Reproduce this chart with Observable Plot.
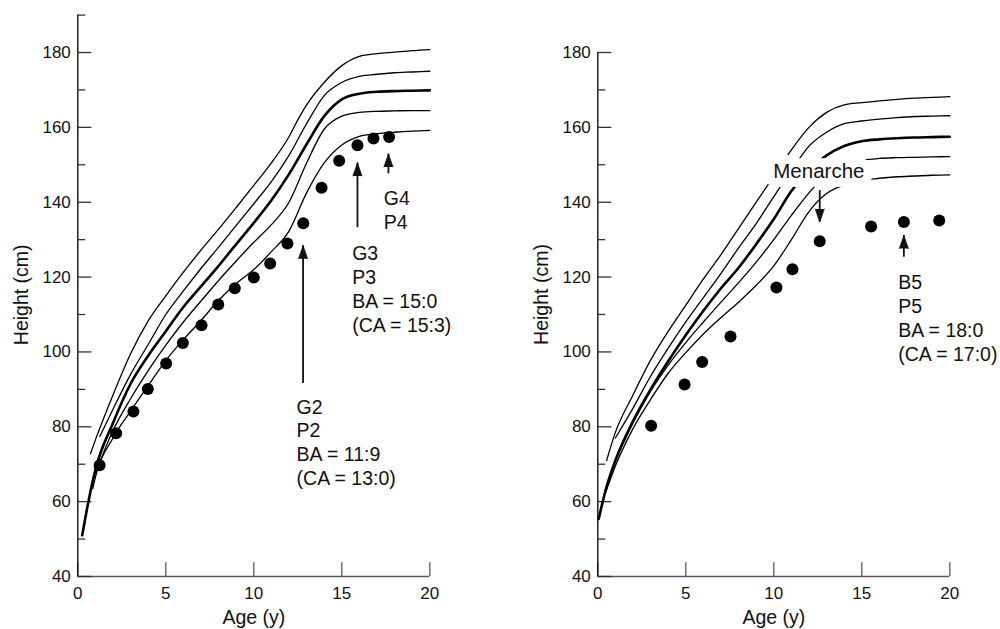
<!DOCTYPE html>
<html><head><meta charset="utf-8">
<script src="https://cdn.jsdelivr.net/npm/d3@7"></script>
<script src="https://cdn.jsdelivr.net/npm/@observablehq/plot@0.6"></script>
<style>
html,body{margin:0;padding:0;background:#fff;}
#wrap{display:flex;width:1000px;height:629px;overflow:hidden;}
#wrap svg{overflow:visible;}
</style></head><body><div id="wrap"></div>
<script>
// ---------- shared axis values ----------
const majorY = [40, 60, 80, 100, 120, 140, 160, 180];
const minorYLeft = [50, 70, 90, 110, 130, 150, 170, 190];
const minorYRight = [50, 70, 90, 110, 130, 150, 170];
const xTicks = [0, 5, 10, 15, 20];

// ---------- left panel (boy) percentile curves ----------
const leftTopAge = [0.72, 1, 2, 3, 4, 5, 6, 7, 8, 9, 10, 11, 12, 12.5, 13, 14, 15, 16, 17, 18, 19, 20];
const leftTopHt  = [72.8, 76.5, 88.5, 99.5, 108.3, 115, 121.3, 127.2, 132.8, 138.6, 144.5, 150.5, 157.5, 162, 166, 172, 176.5, 179, 179.7, 180.1, 180.5, 180.8];
const leftUpAge = [1.25, 2, 3, 4, 5, 6, 7, 8, 9, 10, 11, 12, 13, 14, 15, 16, 17, 18, 19, 20];
const leftUpHt  = [77.4, 84.7, 94, 102, 110, 116.3, 122.3, 128, 133.8, 139.6, 145.5, 152.5, 161, 168.5, 172, 173.6, 174.2, 174.6, 174.8, 175];
const leftMidAge = [0.25, 0.5, 1, 2, 3, 4, 5, 6, 7, 8, 9, 10, 11, 12, 13, 14, 15, 16, 17, 18, 19, 20];
const leftMidHt  = [51, 57.5, 68.5, 81, 91.5, 99, 105.5, 112, 117.5, 123, 128.8, 134.5, 140.5, 147.5, 155.5, 163, 167.5, 169, 169.5, 169.7, 169.8, 169.9];
const leftLowAge = [1, 2, 3, 4, 5, 6, 7, 8, 9, 10, 11, 12, 13, 14, 15, 16, 17, 18, 19, 20];
const leftLowHt  = [67.5, 79, 87.5, 95, 101.8, 108, 113.6, 119.1, 124.3, 129.3, 134, 140, 150.5, 159.5, 163, 164, 164.3, 164.4, 164.5, 164.5];
const leftBotAge = [0.85, 1, 2, 3, 4, 5, 6, 7, 8, 9, 10, 11, 12, 13, 14, 15, 16, 17, 18, 19, 20];
const leftBotHt  = [63.5, 66.5, 77, 84.2, 91, 97.7, 103.3, 108.4, 113.8, 118.3, 122, 126.8, 132.3, 142.5, 150.5, 155.3, 157.6, 158.3, 158.7, 159, 159.2];

// patient measurements (left)
const leftDotAge = [1.24, 2.18, 3.16, 3.98, 5.02, 5.97, 7.03, 7.98, 8.92, 10.0, 10.93, 11.91, 12.81, 13.85, 14.85, 15.89, 16.8, 17.69];
const leftDotHt  = [69.7, 78.3, 84.1, 90.1, 96.9, 102.4, 107.1, 112.7, 117.0, 119.9, 123.6, 129.0, 134.4, 143.9, 151.1, 155.2, 157.0, 157.4];

// annotations (left)
const leftArrowAge  = [12.8, 15.89, 17.65];
const leftArrowFrom = [91.6, 133.2, 147.6];
const leftArrowTo   = [128.4, 150.5, 152.9];
const leftNoteAge  = [12.43, 15.59, 17.39];
const leftNoteHt   = [88.1, 129.05, 143.7];
const leftNoteText = ["G2\nP2\nBA = 11:9\n(CA = 13:0)", "G3\nP3\nBA = 15:0\n(CA = 15:3)", "G4\nP4"];

// ---------- right panel (girl) percentile curves ----------
const rightTopAge = [0.5, 1, 2, 3, 4, 5, 6, 7, 8, 9, 10, 11, 12, 13, 14, 15, 16, 17, 18, 19, 20];
const rightTopHt  = [71, 78.5, 88.5, 97.8, 105.5, 112.5, 119.5, 126, 133, 140, 147, 154, 160, 164, 166, 166.6, 167.1, 167.5, 167.8, 168, 168.2];
const rightUpAge = [1, 2, 3, 4, 5, 6, 7, 8, 9, 10, 11, 12, 13, 14, 15, 16, 17, 18, 19, 20];
const rightUpHt  = [77, 85, 93.5, 101, 108, 114.5, 121, 127.8, 134.3, 141.5, 148.5, 155, 158.7, 161, 161.7, 162.2, 162.6, 162.9, 163, 163.1];
const rightMidAge = [0.05, 0.5, 1, 2, 3, 4, 5, 6, 7, 8, 9, 10, 11, 12, 13, 14, 15, 16, 17, 18, 19, 20];
const rightMidHt  = [55.4, 64, 71, 81.5, 90, 97.5, 104.5, 111, 117, 122.5, 128.8, 135.5, 143, 148.5, 152.5, 155, 156.3, 156.8, 157.1, 157.3, 157.4, 157.5];
const rightLowAge = [0.9, 2, 3, 4, 5, 6, 7, 8, 9, 10, 11, 12, 13, 14, 15, 16, 17, 18, 19, 20];
const rightLowHt  = [70, 81, 89.5, 96.5, 102.5, 108, 113.3, 118.5, 124, 130, 136.5, 142.5, 147.5, 150, 151.2, 151.7, 151.9, 152, 152.1, 152.2];
const rightBotAge = [0.45, 1, 2, 3, 4, 5, 6, 7, 8, 9, 10, 11, 12, 13, 14, 15, 16, 17, 18, 19, 20];
const rightBotHt  = [62.5, 69.5, 79.5, 87.3, 94.3, 99.8, 104.8, 109.2, 113.3, 117.8, 123, 130, 137.5, 142.3, 144.6, 145.8, 146.4, 146.8, 147, 147.2, 147.3];

// patient measurements (right)
const rightDotAge = [3.03, 4.93, 5.93, 7.54, 10.15, 11.06, 12.61, 15.53, 17.39, 19.40];
const rightDotHt  = [80.3, 91.3, 97.3, 104.1, 117.2, 122.1, 129.6, 133.5, 134.7, 135.1];

// annotations (right)
const rightArrowAge  = [12.61, 17.39];
const rightArrowFrom = [143.1, 125.3];
const rightArrowTo   = [134.7, 131.1];
const rightNoteAge  = [17.07];
const rightNoteHt   = [121.3];
const rightNoteText = ["B5\nP5\nBA = 18:0\n(CA = 17:0)"];
const haloNoteAge  = [12.56];
const haloNoteHt   = [150.4];
const haloNoteText = ["Menarche"];

const yLabel = "Height (cm)";
const xLabel = "Age (y)";
const FONT = "'Liberation Sans', Arial, Helvetica, sans-serif";

const zip = (xs, ys) => xs.map((x, i) => ({x, y: ys[i]}));

function panel(cfg) {
  const arrows = cfg.arrowAge.map((x, i) => ({x, from: cfg.arrowFrom[i], to: cfg.arrowTo[i]}));
  const notes = cfg.noteAge.map((x, i) => ({x, y: cfg.noteHt[i], t: cfg.noteText[i]}));
  const marks = [
    // axes frame
    Plot.ruleY([40], {x1: 0, x2: 20, stroke: "#5a5a5a", strokeWidth: 1.3}),
    Plot.ruleX(xTicks, {y1: 40, y2: 43.7, stroke: "#5a5a5a", strokeWidth: 1.3}),
    Plot.ruleX([0], {y1: 40, y2: cfg.yTop, stroke: "#111", strokeWidth: 1.4}),
    Plot.ruleY(majorY, {x1: 0, x2: 0.8, stroke: "#333", strokeWidth: 1.3}),
    Plot.ruleY(cfg.minor, {x1: 0, x2: 0.45, stroke: "#333", strokeWidth: 1.3}),
    Plot.axisY({ticks: majorY, tickSize: 0, tickPadding: 7, label: null, fill: "#111"}),
    Plot.axisX({ticks: xTicks, tickSize: 0, tickPadding: 10, label: null, fill: "#111"}),
    Plot.text([yLabel], {frameAnchor: "left", textAnchor: "middle", lineAnchor: "middle", rotate: -90,
      dx: -56, dy: cfg.labelDy, fontSize: 19.5, fill: "#111"}),
    Plot.text([xLabel], {frameAnchor: "bottom", textAnchor: "middle", lineAnchor: "middle",
      dy: 41.6, fontSize: 19.5, fill: "#111"}),
  ];
  cfg.curves.forEach(([ages, hts, w]) => {
    marks.push(Plot.line(zip(ages, hts), {x: "x", y: "y", stroke: "#000", strokeWidth: w, curve: "monotone-x"}));
  });
  if (cfg.halo) {
    const h = cfg.halo.age.map((x, i) => ({x, y: cfg.halo.ht[i], t: cfg.halo.text[i]}));
    marks.push(Plot.text(h, {x: "x", y: "y", text: "t", textAnchor: "middle", lineAnchor: "top",
      fontSize: 20.5, fill: "#111", stroke: "white", strokeWidth: 18}));
  }
  marks.push(
    Plot.dot(zip(cfg.dotAge, cfg.dotHt), {x: "x", y: "y", r: 6, fill: "#000", stroke: "none"}),
    Plot.ruleX(arrows, {x: "x", y1: "from", y2: "to", stroke: "#111", strokeWidth: 1.8}),
    Plot.vector(arrows, {x: "x", y: "to", rotate: d => d.to > d.from ? 0 : 180, length: 13, anchor: "end",
      shape: "spike", r: 4.5, fill: "#111", stroke: "#111", strokeWidth: 0.8}),
    Plot.text(notes, {x: "x", y: "y", text: "t", textAnchor: "start", lineAnchor: "top",
      fontSize: 19.5, lineHeight: 1.23, fill: "#111"})
  );
  return Plot.plot({
    width: 500, height: 629,
    marginLeft: cfg.marginLeft, marginRight: cfg.marginRight,
    marginTop: cfg.marginTop, marginBottom: 53,
    x: {domain: [0, 20], axis: null},
    y: {domain: [40, cfg.yTop], axis: null},
    style: {fontFamily: FONT, fontSize: "17px", background: "white", color: "#111"},
    marks
  });
}

const wrap = document.getElementById("wrap");
wrap.append(panel({
  yTop: 190, minor: minorYLeft, marginLeft: 77.3, marginRight: 70.7, marginTop: 14.6, labelDy: -1,
  curves: [[leftTopAge, leftTopHt, 1.3], [leftUpAge, leftUpHt, 1.3], [leftMidAge, leftMidHt, 2.6],
           [leftLowAge, leftLowHt, 1.3], [leftBotAge, leftBotHt, 1.3]],
  dotAge: leftDotAge, dotHt: leftDotHt,
  arrowAge: leftArrowAge, arrowFrom: leftArrowFrom, arrowTo: leftArrowTo,
  noteAge: leftNoteAge, noteHt: leftNoteHt, noteText: leftNoteText
}));
wrap.append(panel({
  yTop: 180, minor: minorYRight, marginLeft: 97.3, marginRight: 50.7, marginTop: 52, labelDy: -20,
  curves: [[rightTopAge, rightTopHt, 1.3], [rightUpAge, rightUpHt, 1.3], [rightMidAge, rightMidHt, 2.6],
           [rightLowAge, rightLowHt, 1.3], [rightBotAge, rightBotHt, 1.3]],
  dotAge: rightDotAge, dotHt: rightDotHt,
  arrowAge: rightArrowAge, arrowFrom: rightArrowFrom, arrowTo: rightArrowTo,
  noteAge: rightNoteAge, noteHt: rightNoteHt, noteText: rightNoteText,
  halo: {age: haloNoteAge, ht: haloNoteHt, text: haloNoteText}
}));
</script>
</body></html>
